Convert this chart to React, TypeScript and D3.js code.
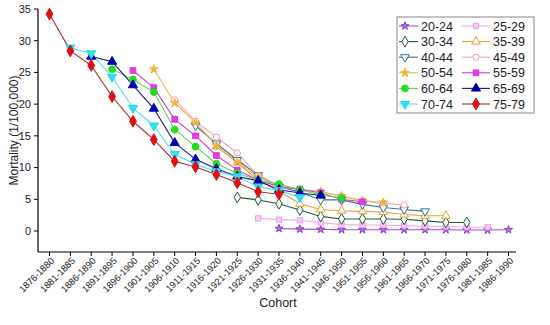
import React from "react";
import * as d3 from "d3";

const cohorts = [
  "1876-1880", "1881-1885", "1886-1890", "1891-1895", "1896-1900", "1901-1905",
  "1906-1910", "1911-1915", "1916-1920", "1921-1925", "1926-1930", "1931-1935",
  "1936-1940", "1941-1945", "1946-1950", "1951-1955", "1956-1960", "1961-1965",
  "1966-1970", "1971-1975", "1976-1980", "1981-1985", "1986-1990",
];

const ageGroups = ["20-24", "25-29", "30-34", "35-39", "40-44", "45-49", "50-54", "55-59", "60-64", "65-69", "70-74", "75-79"];
const firstCohort = ["1931-1935", "1926-1930", "1921-1925", "1916-1920", "1911-1915", "1906-1910", "1901-1905", "1896-1900", "1891-1895", "1886-1890", "1881-1885", "1876-1880"];

const age20_24 = [0.4, 0.3, 0.25, 0.2, 0.2, 0.2, 0.2, 0.2, 0.2, 0.15, 0.15, 0.2];
const age25_29 = [2.0, 1.8, 1.7, 1.3, 1.0, 0.95, 0.95, 0.85, 0.75, 0.7, 0.6, 0.6];
const age30_34 = [5.3, 4.9, 4.3, 3.3, 2.3, 1.9, 1.9, 1.9, 1.85, 1.6, 1.35, 1.35];
const age35_39 = [13.3, 10.8, 8.0, 6.3, 4.3, 3.4, 3.2, 3.1, 3.0, 2.6, 2.4, 2.4];
const age40_44 = [16.6, 13.8, 11.2, 8.8, 7.0, 6.1, 4.9, 4.9, 4.2, 3.7, 3.4, 3.1];
const age45_49 = [20.7, 17.3, 14.8, 12.3, 8.7, 7.0, 6.5, 6.2, 5.5, 4.7, 4.4, 4.1];
const age50_54 = [25.5, 20.2, 17.1, 13.5, 10.9, 8.5, 7.0, 6.5, 6.2, 5.5, 4.8, 4.5];
const age55_59 = [25.3, 22.6, 17.6, 15.0, 11.9, 9.6, 8.0, 7.0, 6.6, 6.0, 5.0, 4.6];
const age60_64 = [25.5, 23.9, 21.9, 16.0, 13.3, 10.6, 9.1, 8.0, 7.4, 6.5, 5.7, 5.2];
const age65_69 = [27.5, 26.7, 23.0, 19.3, 13.9, 11.3, 9.8, 8.6, 7.9, 6.5, 6.0, 5.6];
const age70_74 = [28.9, 28.0, 24.3, 19.4, 16.6, 12.1, 10.5, 9.4, 8.6, 7.0, 6.4, 5.3];
const age75_79 = [34.2, 28.4, 26.1, 21.2, 17.3, 14.4, 11.0, 10.1, 8.9, 7.6, 6.2, 5.8];

const seriesValues = [age20_24, age25_29, age30_34, age35_39, age40_44, age45_49, age50_54, age55_59, age60_64, age65_69, age70_74, age75_79];

const yTicks = [0, 5, 10, 15, 20, 25, 30, 35];

type Style = { line: string; stroke: string; fill: string; symbol: d3.SymbolType; rotate: number; size: number };
const styles: Style[] = [
  { line: "#A050E0", stroke: "#8E3FD0", fill: "#B070E8", symbol: d3.symbolStar, rotate: 0, size: 20 },
  { line: "#F0A8F0", stroke: "#EE99EE", fill: "#F8CCF8", symbol: d3.symbolSquare, rotate: 0, size: 27 },
  { line: "#1E5A32", stroke: "#1E5A32", fill: "#FFFFFF", symbol: d3.symbolDiamond, rotate: 0, size: 34 },
  { line: "#EBA032", stroke: "#EBA032", fill: "#FFFFFF", symbol: d3.symbolTriangle, rotate: 0, size: 32 },
  { line: "#3F7090", stroke: "#2E6FA0", fill: "#FFFFFF", symbol: d3.symbolTriangle, rotate: 180, size: 32 },
  { line: "#F0A8BC", stroke: "#F0A0B8", fill: "#FFFFFF", symbol: d3.symbolCircle, rotate: 0, size: 30 },
  { line: "#F0B848", stroke: "#F2B03A", fill: "#F2B540", symbol: d3.symbolStar, rotate: 0, size: 23 },
  { line: "#D040D8", stroke: "#E030E0", fill: "#E040E0", symbol: d3.symbolSquare, rotate: 0, size: 32 },
  { line: "#55D855", stroke: "#22DD22", fill: "#22DD22", symbol: d3.symbolCircle, rotate: 0, size: 36 },
  { line: "#1A1A80", stroke: "#0000B0", fill: "#0000B0", symbol: d3.symbolTriangle, rotate: 0, size: 36 },
  { line: "#55E0F0", stroke: "#22D8F0", fill: "#33E0F0", symbol: d3.symbolTriangle, rotate: 180, size: 36 },
  { line: "#A83030", stroke: "#DD1111", fill: "#DD1111", symbol: d3.symbolDiamond, rotate: 0, size: 40 },
];

const W = 550;
const H = 325;
const left = 38;
const bottomAxisY = 252;
const font = "'Liberation Sans', Arial, sans-serif";

export default function App() {
  const x = d3.scalePoint<string>().domain(cohorts).range([49.5, 508.5]);
  const y = d3.scaleLinear().domain([0, 35]).range([231, 9]);
  const lineGen = d3.line<[string, number]>().x((d) => x(d[0]) as number).y((d) => y(d[1]));

  const series = seriesValues.map((vals, k) => {
    const start = cohorts.indexOf(firstCohort[k]);
    const pts: [string, number][] = vals.map((v, i) => [cohorts[start + i], v]);
    return pts;
  });

  const sym = (k: number) => d3.symbol().type(styles[k].symbol).size(styles[k].size)() as string;

  const legX1 = 399;
  const legX2 = 462;
  const legY0 = 26;
  const legDy = 15.6;

  return (
    <svg width={W} height={H} style={{ position: "absolute", left: 0, top: 0, background: "#fff" }}>
      <rect x={0} y={0} width={W} height={H} fill="#fff" />
      <line x1={left} y1={y(35)} x2={left} y2={bottomAxisY} stroke="#000" strokeWidth={1.2} />
      <line x1={left} y1={bottomAxisY} x2={516} y2={bottomAxisY} stroke="#000" strokeWidth={1.2} />
      {yTicks.map((t) => (
        <g key={t}>
          <line x1={left - 4} x2={left} y1={y(t)} y2={y(t)} stroke="#000" />
          <text x={left - 7} y={y(t)} dy="0.35em" textAnchor="end" fontFamily={font} fontSize={11} fill="#222">
            {t}
          </text>
        </g>
      ))}
      {cohorts.map((c) => (
        <g key={c}>
          <line x1={x(c)} x2={x(c)} y1={bottomAxisY} y2={bottomAxisY + 4} stroke="#000" />
          <text
            transform={`translate(${(x(c) as number) + 3},${bottomAxisY + 7}) rotate(-45)`}
            textAnchor="end"
            dy="0.35em"
            fontFamily={font}
            fontSize={9.4}
            fill="#222"
          >
            {c}
          </text>
        </g>
      ))}
      <text x={278} y={307} textAnchor="middle" fontFamily={font} fontSize={12.5} fill="#222">
        Cohort
      </text>
      <text
        transform={`translate(14,${(y(35) + bottomAxisY) / 2}) rotate(-90)`}
        textAnchor="middle"
        dy="0.35em"
        fontFamily={font}
        fontSize={12}
        fill="#222"
      >
        Mortality (1/100,000)
      </text>
      {series.map((pts, k) => (
        <path key={"l" + k} d={lineGen(pts) as string} fill="none" stroke={styles[k].line} strokeWidth={1.1} />
      ))}
      {series.map((pts, k) => (
        <g key={"m" + k}>
          {pts.map((p, i) => (
            <path
              key={i}
              d={sym(k)}
              transform={`translate(${x(p[0])},${y(p[1])}) rotate(${styles[k].rotate})`}
              fill={styles[k].fill}
              stroke={styles[k].stroke}
              strokeWidth={1}
            />
          ))}
        </g>
      ))}
      <rect x={397} y={17} width={137} height={96} fill="#fff" stroke="#888" strokeWidth={1} />
      {ageGroups.map((g, k) => {
        const col = k % 2;
        const row = Math.floor(k / 2);
        const ly = legY0 + row * legDy;
        const lx = col === 0 ? legX1 : legX2;
        const len = col === 0 ? 19 : 28;
        const mx = col === 0 ? lx + 6 : lx + 14;
        return (
          <g key={g}>
            <line x1={lx} x2={lx + len} y1={ly} y2={ly} stroke={styles[k].line} strokeWidth={1.1} />
            <path
              d={sym(k)}
              transform={`translate(${mx},${ly}) rotate(${styles[k].rotate})`}
              fill={styles[k].fill}
              stroke={styles[k].stroke}
              strokeWidth={1}
            />
            <text x={lx + len + 3} y={ly} dy="0.36em" fontFamily={font} fontSize={12.5} fill="#222">
              {g}
            </text>
          </g>
        );
      })}
    </svg>
  );
}
